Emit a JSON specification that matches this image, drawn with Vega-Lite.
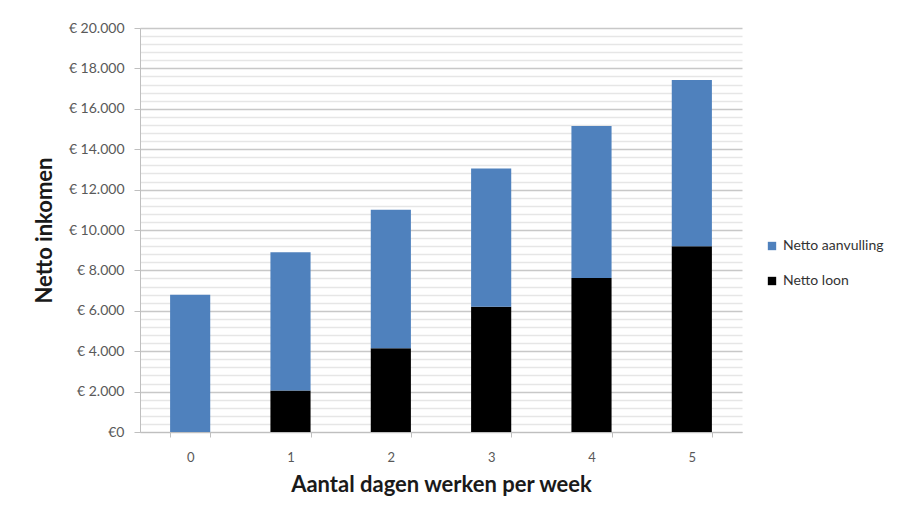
{
  "$schema": "https://vega.github.io/schema/vega-lite/v6.json",
  "width": 602,
  "height": 404,
  "autosize": "none",
  "padding": {"left": 140, "top": 28, "right": 159, "bottom": 82},
  "background": "white",
  "config": {
    "font": "Lato",
    "view": {"stroke": null},
    "locale": {"number": {"decimal": ",", "thousands": ".", "grouping": [3], "currency": ["€ ", ""]}}
  },
  "data": {
    "values": [
      {"dagen": "0", "serie": "Netto loon", "bedrag": 0},
      {"dagen": "0", "serie": "Netto aanvulling", "bedrag": 6800},
      {"dagen": "1", "serie": "Netto loon", "bedrag": 2060},
      {"dagen": "1", "serie": "Netto aanvulling", "bedrag": 6840},
      {"dagen": "2", "serie": "Netto loon", "bedrag": 4150},
      {"dagen": "2", "serie": "Netto aanvulling", "bedrag": 6850},
      {"dagen": "3", "serie": "Netto loon", "bedrag": 6200},
      {"dagen": "3", "serie": "Netto aanvulling", "bedrag": 6850},
      {"dagen": "4", "serie": "Netto loon", "bedrag": 7620},
      {"dagen": "4", "serie": "Netto aanvulling", "bedrag": 7530},
      {"dagen": "5", "serie": "Netto loon", "bedrag": 9200},
      {"dagen": "5", "serie": "Netto aanvulling", "bedrag": 8230}
    ]
  },
  "mark": {"type": "bar"},
  "encoding": {
    "x": {
      "field": "dagen",
      "type": "ordinal",
      "scale": {"paddingInner": 0.6, "paddingOuter": 0.3},
      "axis": {
        "title": "Aantal dagen werken per week",
        "titleFontSize": 22,
        "titleFontWeight": "bold",
        "titleColor": "#1a1a1a",
        "titlePadding": 10,
        "labelAngle": 0,
        "labelFontSize": 13,
        "labelColor": "#595959",
        "labelPadding": 14,
        "tickBand": "extent",
        "tickSize": 5,
        "tickColor": "#bfbfbf",
        "domainColor": "#bfbfbf",
        "grid": false
      }
    },
    "y": {
      "field": "bedrag",
      "type": "quantitative",
      "stack": "zero",
      "scale": {"domain": [0, 20000], "nice": false},
      "axis": {
        "title": "Netto inkomen",
        "titleFontSize": 22,
        "titleFontWeight": "bold",
        "titleColor": "#1a1a1a",
        "titlePadding": 12,
        "values": [0,400,800,1200,1600,2000,2400,2800,3200,3600,4000,4400,4800,5200,5600,6000,6400,6800,7200,7600,8000,8400,8800,9200,9600,10000,10400,10800,11200,11600,12000,12400,12800,13200,13600,14000,14400,14800,15200,15600,16000,16400,16800,17200,17600,18000,18400,18800,19200,19600,20000],
        "labelExpr": "datum.value % 2000 === 0 ? (datum.value === 0 ? '€0' : format(datum.value, '$,d')) : ''",
        "labelFontSize": 14,
        "labelColor": "#595959",
        "labelPadding": 10,
        "grid": true,
        "gridColor": {"condition": {"test": "datum.value % 2000 === 0", "value": "#c8c8c8"}, "value": "#e6e6e6"},
        "gridWidth": 1.5,
        "tickColor": {"condition": {"test": "datum.value % 2000 === 0", "value": "#bfbfbf"}, "value": "transparent"},
        "tickSize": 6,
        "domainColor": "#bfbfbf"
      }
    },
    "color": {
      "field": "serie",
      "type": "nominal",
      "scale": {"domain": ["Netto aanvulling", "Netto loon"], "range": ["#4F81BD", "#000000"]},
      "legend": {
        "title": null,
        "orient": "none",
        "legendX": 625,
        "legendY": 211,
        "symbolType": "square",
        "symbolSize": 70,
        "symbolStrokeWidth": 0,
        "labelFontSize": 14,
        "labelColor": "#333333",
        "labelOffset": 4,
        "rowPadding": 21
      }
    },
    "order": {"field": "serie", "sort": "descending"}
  }
}
